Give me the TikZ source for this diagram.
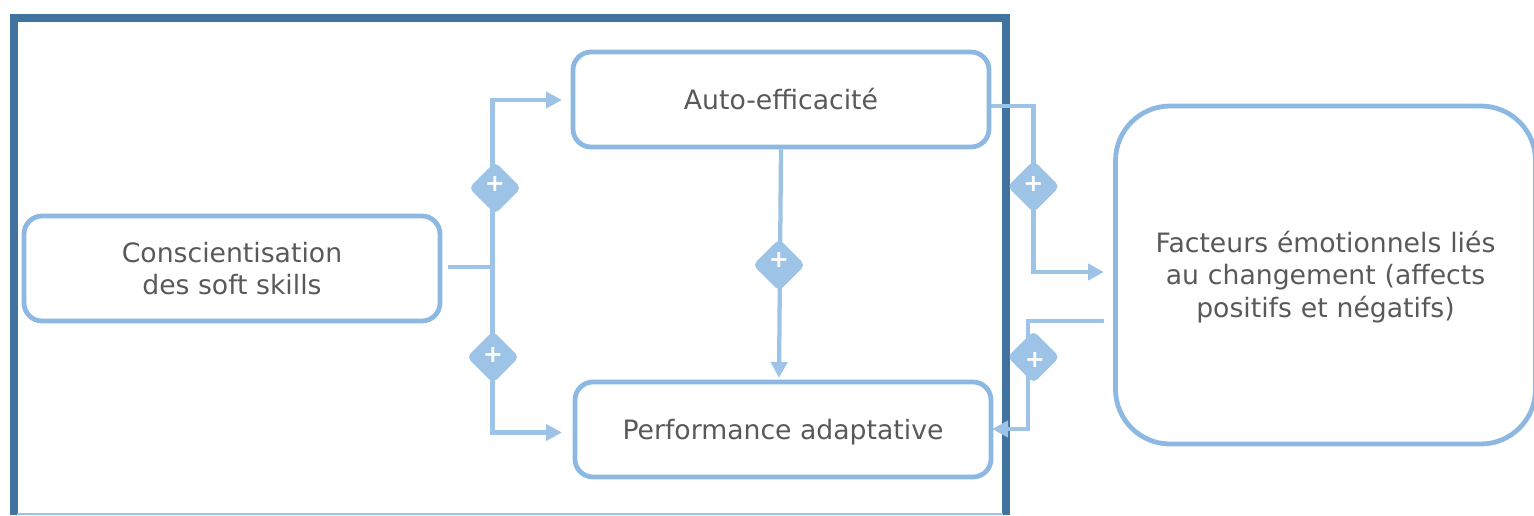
\documentclass[tikz,border=0pt]{standalone}
\usepackage{fontspec}
\setmainfont{DejaVu Sans}
\usetikzlibrary{arrows.meta,shapes.geometric,backgrounds}
\definecolor{framec}{HTML}{41739F}
\definecolor{boxc}{HTML}{8DB8E2}
\definecolor{connc}{HTML}{9DC3E6}
\definecolor{textc}{HTML}{595959}
\tikzset{
  x=0.75pt,y=-0.75pt,
  box/.style={draw=boxc,line width=3.6pt,rounded corners=13.5pt,align=center,text=textc,font=\fontsize{20pt}{24.4pt}\selectfont,inner sep=0pt},
  conn/.style={draw=connc,line width=3.2pt},
  arr/.style={conn,-{Triangle[length=12pt,width=12pt,fill=connc]}},
  gate/.style={diamond,fill=connc,draw=connc,line width=0.5pt,rounded corners=3.5pt,inner sep=0pt,minimum width=38.5pt,minimum height=38.5pt,text=white,font=\fontsize{18pt}{18pt}\bfseries\selectfont,text height=#1,text depth=0pt},
}
\begin{document}
\begin{tikzpicture}
\useasboundingbox (0,0) rectangle (1534,515);
% boxes
\node[box,minimum width=312pt,minimum height=78.75pt] (aware) at (232,268.5) {Conscientisation\\des soft skills};
\node[box,minimum width=312pt,minimum height=71.25pt,text height=15pt,text depth=0pt] (auto) at (781,99.5) {Auto-efficacité};
\node[box,minimum width=312pt,minimum height=71.25pt,text height=15pt,text depth=0pt] (perf) at (783,429.5) {Performance adaptative};
\node[box,rounded corners=41pt,minimum width=315pt,minimum height=253.5pt,text width=300pt] (emo) at (1325.5,275) {\rule{0pt}{19pt}Facteurs émotionnels liés\\au changement (affects\\positifs et négatifs)};
% gates
\node[gate=5.2pt] (g1) at (495,188) {+};
\node[gate=8.2pt] (g2) at (493,357) {+};
\node[gate=3.7pt] (g3) at (779,265) {+};
\node[gate=8.2pt] (g4) at (1033.5,186.5) {+};
\node[gate=15.7pt] (g5) at (1033.5,357) {\hspace*{2pt}+};
% free ends
\coordinate (jn) at (492.5,267);
\coordinate (t1) at (492.5,100);
\coordinate (t2) at (492.5,432.5);
\coordinate (autoIn) at (562,100);
\coordinate (perfIn) at (562,432.5);
\coordinate (start) at (448,267);
\coordinate (autoOut) at (989,106);
\coordinate (r1) at (1033.5,106);
\coordinate (r2) at (1033.5,272);
\coordinate (emoIn) at (1104,272);
\coordinate (emoOut) at (1104,321);
\coordinate (r3) at (1028,321);
\coordinate (r4) at (1028,429);
\coordinate (perfBack) at (992,429);
\coordinate (midIn) at (779,378);
\begin{scope}[on background layer]
  \draw[draw=framec,line width=6pt,line join=miter] (14,515) -- (14,18) -- (1006,18) -- (1006,515);
  \draw[conn,line width=1.5pt] (17,514.3) -- (1003,514.3);
  \draw[conn] (start) -- (jn);
  \draw[arr] (jn) -- (t1) -- (autoIn);
  \draw[arr] (jn) -- (t2) -- (perfIn);
  \draw[arr] (auto.south) -- (midIn);
  \draw[arr] (autoOut) -- (r1) -- (r2) -- (emoIn);
  \draw[arr] (emoOut) -- (r3) -- (r4) -- (perfBack);
\end{scope}
\end{tikzpicture}
\end{document}
